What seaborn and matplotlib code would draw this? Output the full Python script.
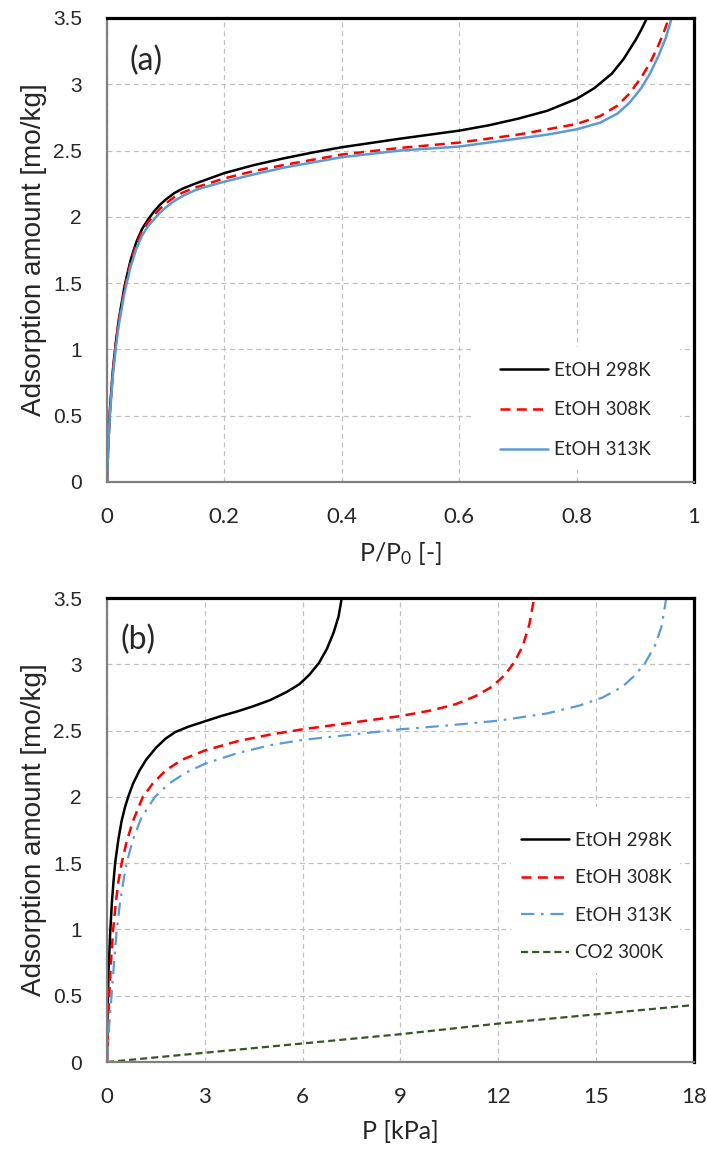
import seaborn as sns
import matplotlib.pyplot as plt
from matplotlib.patches import Rectangle

# Panel (a): adsorption vs relative pressure P/P0
p0_298 = [0, 0.002, 0.005, 0.01, 0.015, 0.02, 0.03, 0.04, 0.05, 0.06, 0.07, 0.08, 0.09, 0.1, 0.115, 0.13, 0.15,
          0.175, 0.2, 0.25, 0.3, 0.35, 0.4, 0.5, 0.6, 0.65, 0.7, 0.75, 0.8, 0.83, 0.86, 0.88, 0.9, 0.91, 0.92]
q0_298 = [0, 0.26, 0.54, 0.84, 1.05, 1.22, 1.48, 1.67, 1.81, 1.91, 1.98, 2.04, 2.09, 2.13, 2.18, 2.215, 2.25,
          2.29, 2.33, 2.39, 2.44, 2.485, 2.525, 2.59, 2.65, 2.69, 2.74, 2.80, 2.89, 2.97, 3.08, 3.19, 3.33, 3.41, 3.5]
p0_308 = [0, 0.002, 0.005, 0.01, 0.015, 0.02, 0.03, 0.04, 0.05, 0.06, 0.07, 0.08, 0.09, 0.1, 0.115, 0.13, 0.15,
          0.175, 0.2, 0.25, 0.3, 0.35, 0.4, 0.5, 0.6, 0.65, 0.7, 0.75, 0.8, 0.84, 0.87, 0.89, 0.91, 0.925, 0.94,
          0.95, 0.957]
q0_308 = [0, 0.25, 0.53, 0.83, 1.04, 1.21, 1.46, 1.65, 1.79, 1.89, 1.96, 2.01, 2.06, 2.10, 2.15, 2.185, 2.22,
          2.255, 2.29, 2.345, 2.39, 2.43, 2.47, 2.52, 2.56, 2.59, 2.62, 2.66, 2.70, 2.76, 2.84, 2.93, 3.05, 3.16, 3.3,
          3.41, 3.5]
p0_313 = [0, 0.002, 0.005, 0.01, 0.015, 0.02, 0.03, 0.04, 0.05, 0.06, 0.07, 0.08, 0.09, 0.1, 0.115, 0.13, 0.15,
          0.175, 0.2, 0.25, 0.3, 0.35, 0.4, 0.5, 0.6, 0.65, 0.7, 0.75, 0.8, 0.84, 0.87, 0.89, 0.91, 0.925, 0.94,
          0.952, 0.962]
q0_313 = [0, 0.24, 0.51, 0.80, 1.01, 1.18, 1.43, 1.62, 1.76, 1.86, 1.93, 1.98, 2.03, 2.07, 2.12, 2.16, 2.20,
          2.235, 2.265, 2.32, 2.37, 2.41, 2.45, 2.50, 2.53, 2.56, 2.59, 2.62, 2.66, 2.71, 2.78, 2.86, 2.97, 3.08, 3.22,
          3.35, 3.5]

# Panel (b): adsorption vs absolute pressure [kPa]
p_298 = [0, 0.02, 0.05, 0.1, 0.15, 0.2, 0.25, 0.35, 0.45, 0.55, 0.65, 0.8, 1.0, 1.2, 1.5, 1.8, 2.1, 2.5, 3.0,
         3.5, 4.0, 4.5, 5.0, 5.5, 5.9, 6.2, 6.5, 6.75, 6.95, 7.1, 7.2]
q_298 = [0, 0.4, 0.7, 0.98, 1.2, 1.36, 1.5, 1.68, 1.82, 1.92, 2.0, 2.1, 2.2, 2.28, 2.37, 2.44, 2.49, 2.53, 2.57,
         2.61, 2.645, 2.685, 2.73, 2.79, 2.85, 2.92, 3.01, 3.12, 3.24, 3.36, 3.5]
p_308 = [0, 0.03, 0.07, 0.12, 0.19, 0.27, 0.35, 0.45, 0.6, 0.8, 1.1, 1.4, 1.8, 2.3, 3.0, 4.0, 5.0, 6.0, 7.5,
         9.0, 10.0, 10.7, 11.3, 11.8, 12.2, 12.5, 12.75, 12.95, 13.1]
q_308 = [0, 0.25, 0.5, 0.75, 1.0, 1.2, 1.36, 1.5, 1.66, 1.82, 2.0, 2.1, 2.2, 2.28, 2.35, 2.42, 2.47, 2.51, 2.56,
         2.61, 2.655, 2.7, 2.76, 2.83, 2.92, 3.02, 3.14, 3.3, 3.5]
p_313 = [0, 0.06, 0.14, 0.22, 0.3, 0.4, 0.5, 0.6, 0.8, 1.05, 1.47, 1.9, 2.4, 3.0, 4.0, 5.0, 6.0, 7.5, 9.0, 10.5,
         12.0, 13.5, 14.5, 15.2, 15.8, 16.2, 16.5, 16.8, 17.0, 17.15]
q_313 = [0, 0.25, 0.5, 0.76, 1.0, 1.2, 1.36, 1.5, 1.68, 1.84, 2.0, 2.1, 2.18, 2.25, 2.33, 2.39, 2.43, 2.47, 2.51,
         2.54, 2.575, 2.63, 2.69, 2.75, 2.83, 2.92, 3.01, 3.14, 3.28, 3.5]
p_co2 = [0, 3, 6, 9, 12, 15, 18]
q_co2 = [0, 0.07, 0.14, 0.21, 0.29, 0.36, 0.43]

x_ticks_a = [0, 0.2, 0.4, 0.6, 0.8, 1]
x_ticks_b = [0, 3, 6, 9, 12, 15, 18]
y_ticks = [0, 0.5, 1, 1.5, 2, 2.5, 3, 3.5]

sns.set_style('white')
plt.rcParams['font.family'] = ['Lato', 'DejaVu Sans']

fig = plt.figure(figsize=(7.07, 11.53), dpi=100)
ax_a = fig.add_axes([0.1513, 0.5820, 0.8303, 0.4024])
ax_b = fig.add_axes([0.1513, 0.0789, 0.8303, 0.4024])

BLUE = '#5B9BD5'
GREEN = '#375623'
RED_DASH = (0, (4, 2.5))

########################################################################
# (a) EtOH isotherms vs P/P0
########################################################################
sns.lineplot(x=p0_298, y=q0_298, ax=ax_a, color='black', lw=1.8, label='EtOH 298K', sort=False, errorbar=None)
sns.lineplot(x=p0_308, y=q0_308, ax=ax_a, color='red', lw=1.8, linestyle=RED_DASH, label='EtOH 308K',
             sort=False, errorbar=None)
sns.lineplot(x=p0_313, y=q0_313, ax=ax_a, color=BLUE, lw=1.8, label='EtOH 313K', sort=False, errorbar=None)

########################################################################
# (b) EtOH + CO2 isotherms vs P
########################################################################
sns.lineplot(x=p_298, y=q_298, ax=ax_b, color='black', lw=1.8, label='EtOH 298K', sort=False, errorbar=None)
sns.lineplot(x=p_308, y=q_308, ax=ax_b, color='red', lw=1.8, linestyle=RED_DASH, label='EtOH 308K',
             sort=False, errorbar=None)
sns.lineplot(x=p_313, y=q_313, ax=ax_b, color=BLUE, lw=1.6, linestyle=(0, (6, 3, 1.2, 3)), label='EtOH 313K',
             sort=False, errorbar=None)
sns.lineplot(x=p_co2, y=q_co2, ax=ax_b, color=GREEN, lw=1.6, linestyle=(0, (3.2, 1.8)), label='CO2 300K',
             sort=False, errorbar=None)

# per panel: ticks, x label, tag + position, legend anchor, legend spacing, white box behind legend
panels = [
    (ax_a, x_ticks_a, (0, 1), r'P/P$\mathregular{_0}$ [-]', '(a)', (0.066, 0.907),
     (0.6695, 0.259), 1.21, (0.620, 0.026, 0.356, 0.265)),
    (ax_b, x_ticks_b, (0, 18), 'P [kPa]', '(b)', (0.053, 0.909),
     (0.7053, 0.496), 1.09, (0.688, 0.192, 0.288, 0.358)),
]

for ax, xt, xlim, xlabel, tag, tag_xy, leg_xy, spacing, box in panels:
    ax.set_xlim(*xlim)
    ax.set_ylim(0, 3.5)
    ax.set_xticks(xt)
    ax.set_xticklabels([f'{t:g}' for t in xt], fontsize=16, family='Lato')
    ax.set_yticks(y_ticks)
    ax.set_yticklabels([f'{t:g}' for t in y_ticks], fontsize=15, family='Liberation Sans')
    ax.tick_params(axis='x', length=0, pad=18)
    ax.tick_params(axis='y', length=0, pad=18)
    ax.grid(True, color='#c0c0c0', linestyle=(0, (4, 3)), lw=0.9)
    ax.set_axisbelow(True)
    for s in ['top', 'right']:
        ax.spines[s].set_color('black')
        ax.spines[s].set_linewidth(2.3)
    for s in ['left', 'bottom']:
        ax.spines[s].set_color('#7f7f7f')
        ax.spines[s].set_linewidth(1.6)
    ax.set_xlabel(xlabel, fontsize=18, family='Lato')
    ax.xaxis.set_label_coords(0.5, -0.125)
    ax.set_ylabel('Adsorption amount [mo/kg]', fontsize=14.5, family='Liberation Sans')
    ax.yaxis.set_label_coords(-0.103, 0.5)
    ax.text(tag_xy[0], tag_xy[1], tag, transform=ax.transAxes, fontsize=23, family='Lato',
            va='center', ha='center')
    ax.add_patch(Rectangle((box[0], box[1]), box[2], box[3], transform=ax.transAxes,
                           facecolor='white', edgecolor='none', zorder=1))
    leg = ax.legend(loc='upper left', bbox_to_anchor=leg_xy, borderaxespad=0, borderpad=0, frameon=False,
                    fontsize=13.5, handlelength=2.56, handletextpad=0.3, labelspacing=spacing)
    for t in leg.get_texts():
        t.set_family('Lato')

# y label in the reference runs about 334 px along the axis
fig.canvas.draw()
renderer = fig.canvas.get_renderer()
for ax in [ax_a, ax_b]:
    lab = ax.yaxis.label
    h = lab.get_window_extent(renderer).height
    lab.set_fontsize(lab.get_fontsize() * 334 / h)

plt.savefig('out.png', dpi=100)
